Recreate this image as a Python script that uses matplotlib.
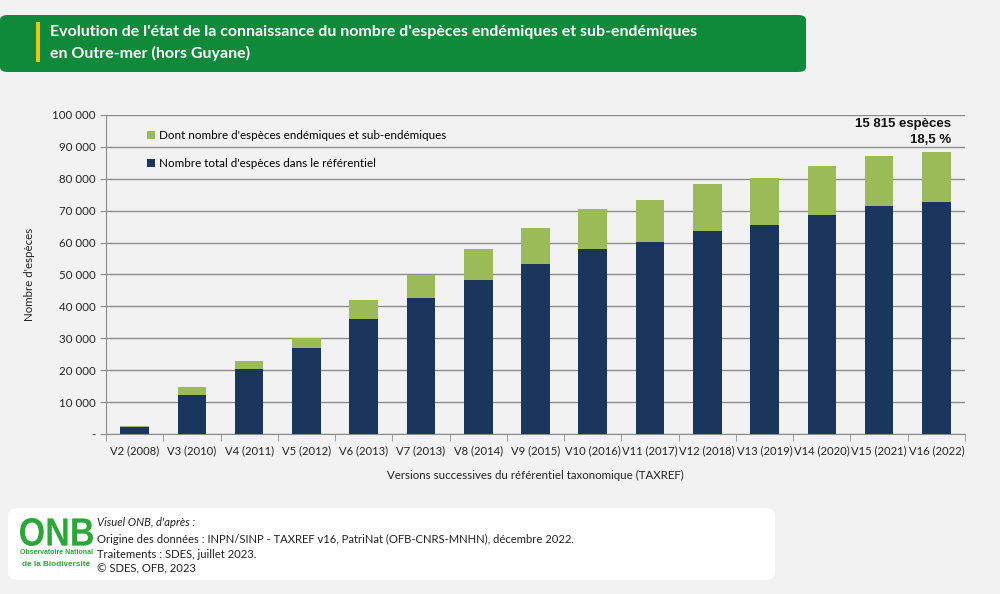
import numpy as np
import matplotlib
matplotlib.use("Agg")
import matplotlib.pyplot as plt
from matplotlib.patches import FancyBboxPatch, Rectangle, PathPatch
from matplotlib.textpath import TextPath
from matplotlib.font_manager import FontProperties
from matplotlib.transforms import Affine2D

plt.rcParams['font.family'] = ['Lato', 'DejaVu Sans']

# Données
versions = ["V2 (2008)", "V3 (2010)", "V4 (2011)", "V5 (2012)", "V6 (2013)", "V7 (2013)",
            "V8 (2014)", "V9 (2015)", "V10 (2016)", "V11 (2017)", "V12 (2018)", "V13 (2019)",
            "V14 (2020)", "V15 (2021)", "V16 (2022)"]
total = [2300, 12200, 20400, 27100, 36100, 42650, 48400, 53300, 58100, 60200,
         63650, 65600, 68800, 71600, 72600]
endemiques = [200, 2600, 2600, 2900, 5900, 7250, 9600, 11400, 12400, 13200,
              14800, 14700, 15300, 15600, 15815]
yticks = [0, 10000, 20000, 30000, 40000, 50000, 60000, 70000, 80000, 90000, 100000]

navy = "#1b365d"
vert = "#9bbb59"
bg = "#f2f2f2"

fig = plt.figure(figsize=(10, 5.94), dpi=100, facecolor=bg)

# Bandeau titre
fig.patches.append(FancyBboxPatch((0.0, 1 - 72 / 594), 0.806, 57 / 594,
                                  boxstyle="round,pad=0,rounding_size=0.008",
                                  transform=fig.transFigure, facecolor="#0e8a3a",
                                  edgecolor="none", zorder=0))
fig.patches.append(Rectangle((0.036, 1 - 62 / 594), 0.0035, 40 / 594,
                             transform=fig.transFigure, facecolor="#f2c500",
                             edgecolor="none", zorder=1))
fig.text(0.050, 1 - 32 / 594, "Evolution de l'état de la connaissance du nombre d'espèces endémiques et sub-endémiques",
         color="white", fontsize=11.5, fontweight="bold", va="center", ha="left")
fig.text(0.050, 1 - 53 / 594, "en Outre-mer (hors Guyane)",
         color="white", fontsize=11.5, fontweight="bold", va="center", ha="left")

# Graphique
ax = fig.add_axes([0.106, 1 - 434 / 594, 0.859, 319 / 594])
ax.set_facecolor(bg)
x = np.arange(len(versions))
ax.bar(x, total, width=0.5, color=navy, zorder=3,
       label="Nombre total d'espèces dans le référentiel")
ax.bar(x, endemiques, width=0.5, bottom=total, color=vert, zorder=3,
       label="Dont nombre d'espèces endémiques et sub-endémiques")

ax.set_xlim(-0.5, len(versions) - 0.5)
ax.set_ylim(0, 100000)
ax.set_yticks(yticks)
ax.set_yticklabels(["-" if v == 0 else f"{v:,}".replace(",", " ") for v in yticks])
ax.yaxis.grid(True, color="#8c8c8c", linewidth=1.0, zorder=0)
ax.set_xticks(x)
ax.set_xticklabels(versions)
ax.set_xticks(np.arange(-0.5, len(versions)), minor=True)
ax.tick_params(axis="x", which="major", length=0, pad=8, labelsize=8.1, colors="#222222")
ax.tick_params(axis="x", which="minor", length=5, color="#8c8c8c")
ax.tick_params(axis="y", length=4, color="#8c8c8c", labelsize=8.3, labelcolor="#222222")
for s in ["top", "right"]:
    ax.spines[s].set_visible(False)
for s in ["left", "bottom"]:
    ax.spines[s].set_color("#8c8c8c")

ax.set_ylabel("Nombre d'espèces", fontsize=8.3, color="#222222", labelpad=12)
ax.set_xlabel("Versions successives du référentiel taxonomique (TAXREF)",
              fontsize=8.3, color="#222222", labelpad=10)

h, l = ax.get_legend_handles_labels()
leg = ax.legend(h[::-1], l[::-1], loc="upper left", bbox_to_anchor=(0.035, 0.985),
                frameon=False, fontsize=8.4, handlelength=0.7, handleheight=0.7,
                handletextpad=0.4, labelspacing=1.45)

ax.text(x[-1] + 0.25, 97300, f"{endemiques[-1]:,}".replace(",", " ") + " espèces",
        ha="right", va="center", fontsize=9.5, fontweight="bold",
        family="Liberation Sans", color="#111111")
ax.text(x[-1] + 0.25, 92300, "18,5 %", ha="right", va="center", fontsize=9.5,
        fontweight="bold", family="Liberation Sans", color="#111111")

# Pied de page
fig.patches.append(FancyBboxPatch((0.008, 1 - 580 / 594), 0.767, 72 / 594,
                                  boxstyle="round,pad=0,rounding_size=0.012",
                                  transform=fig.transFigure, facecolor="white",
                                  edgecolor="none", zorder=0))
# logo ONB en lettres étroites (chemin de texte mis à l'échelle)
tp = TextPath((0, 0), "ONB", size=1, prop=FontProperties(family="Liberation Sans", weight="bold"))
ext = tp.get_extents()
sx = 73 / ext.width
sy = 28 / ext.height
tr = Affine2D().translate(-ext.x0, -ext.y0).scale(sx, sy).translate(20, 594 - 546)
fig.patches.append(PathPatch(tr.transform_path(tp), transform=None, facecolor="#2aa837",
                             edgecolor="none", zorder=2))
fig.text(0.056, 1 - 553 / 594, "Observatoire National", color="#2aa837", fontsize=5.0,
         fontweight="bold", family="Liberation Sans", ha="center", va="center")
fig.text(0.056, 1 - 564 / 594, "de la Biodiversité", color="#2aa837", fontsize=5.9,
         fontweight="bold", family="Liberation Sans", ha="center", va="center")
fig.text(0.097, 1 - 522 / 594, "Visuel ONB, d'après :", fontsize=8.1, style="italic",
         color="#222222", va="center")
fig.text(0.097, 1 - 539 / 594,
         "Origine des données : INPN/SINP - TAXREF v16, PatriNat (OFB-CNRS-MNHN), décembre 2022.",
         fontsize=8.1, color="#222222", va="center")
fig.text(0.097, 1 - 554 / 594, "Traitements : SDES, juillet 2023.", fontsize=8.1,
         color="#222222", va="center")
fig.text(0.097, 1 - 569 / 594, "© SDES, OFB, 2023", fontsize=8.1, color="#222222", va="center")

fig.savefig("out.png", dpi=100, facecolor=bg)
